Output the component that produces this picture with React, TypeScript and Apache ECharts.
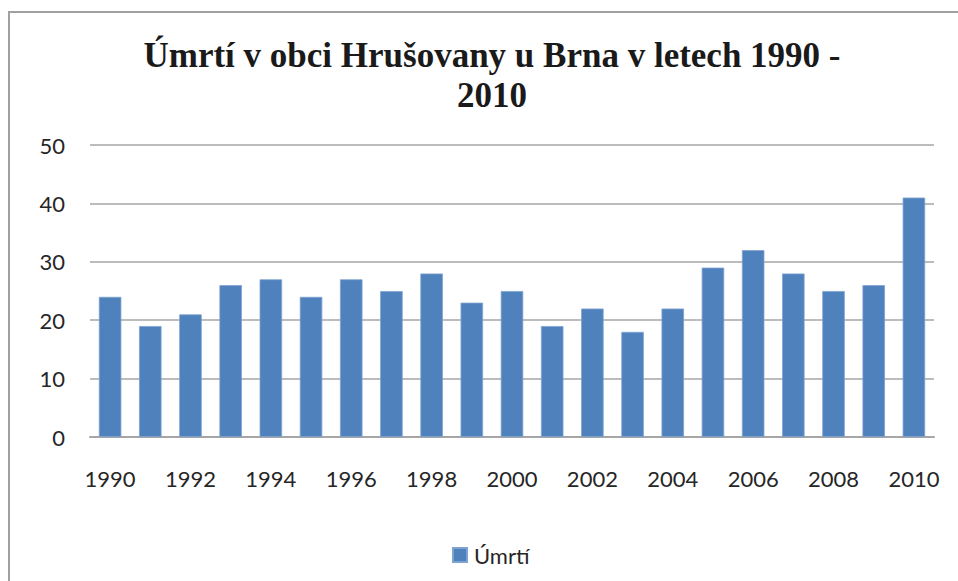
import React, { useEffect, useRef } from "react";
import * as echarts from "echarts";

const years: string[] = [
  "1990", "1991", "1992", "1993", "1994", "1995", "1996", "1997", "1998", "1999", "2000",
  "2001", "2002", "2003", "2004", "2005", "2006", "2007", "2008", "2009", "2010",
];
const deaths: number[] = [24, 19, 21, 26, 27, 24, 27, 25, 28, 23, 25, 19, 22, 18, 22, 29, 32, 28, 25, 26, 41];
const seriesName = "Úmrtí";
const titleText = "Úmrtí v obci Hrušovany u Brna v letech 1990 -\n2010";

export default function App() {
  const ref = useRef<HTMLDivElement>(null);
  useEffect(() => {
    if (!ref.current) return;
    const chart = echarts.init(ref.current, null, { renderer: "svg" });
    const labelFont = "Lato, 'Open Sans', sans-serif";
    chart.setOption({
      animation: false,
      backgroundColor: "#ffffff",
      title: {
        text: titleText,
        left: 487,
        top: 30,
        textAlign: "center",
        textStyle: {
          fontFamily: "'Liberation Serif', 'Times New Roman', serif",
          fontWeight: "bold",
          fontSize: 35,
          lineHeight: 40,
          color: "#1a1a1a",
        },
      },
      graphic: [
        {
          type: "rect",
          shape: { x: 9, y: 12, width: 1000, height: 1000 },
          style: { fill: "none", stroke: "#a0a0a0", lineWidth: 2 },
          silent: true,
        },
      ],
      legend: {
        data: [seriesName],
        left: 447,
        top: 539,
        icon: "rect",
        itemWidth: 14,
        itemHeight: 14,
        itemGap: 10,
        textStyle: { fontFamily: labelFont, fontSize: 22, color: "#262626", padding: [0, 0, 0, 2] },
      },
      grid: { left: 90, right: 24, top: 145, bottom: 144 },
      xAxis: {
        type: "category",
        data: years,
        axisTick: { show: false },
        axisLine: { lineStyle: { color: "#a6a6a6", width: 2 } },
        axisLabel: {
          interval: 1,
          fontFamily: labelFont,
          fontSize: 22,
          color: "#262626",
          margin: 30,
        },
      },
      yAxis: {
        type: "value",
        min: 0,
        max: 50,
        interval: 10,
        axisLine: { show: false },
        axisTick: { show: false },
        splitLine: { lineStyle: { color: "#a6a6a6", width: 1.5 } },
        axisLabel: {
          fontFamily: labelFont,
          fontSize: 22,
          color: "#262626",
          margin: 25,
        },
      },
      series: [
        {
          name: seriesName,
          type: "bar",
          data: deaths,
          barWidth: "56%",
          itemStyle: { color: "#4F81BD", borderColor: "#7FA3D1", borderWidth: 0.8 },
        },
      ],
    });
    return () => chart.dispose();
  }, []);
  return (
    <div
      ref={ref}
      style={{ position: "fixed", left: 0, top: 0, width: 958, height: 581, background: "#fff" }}
    />
  );
}
